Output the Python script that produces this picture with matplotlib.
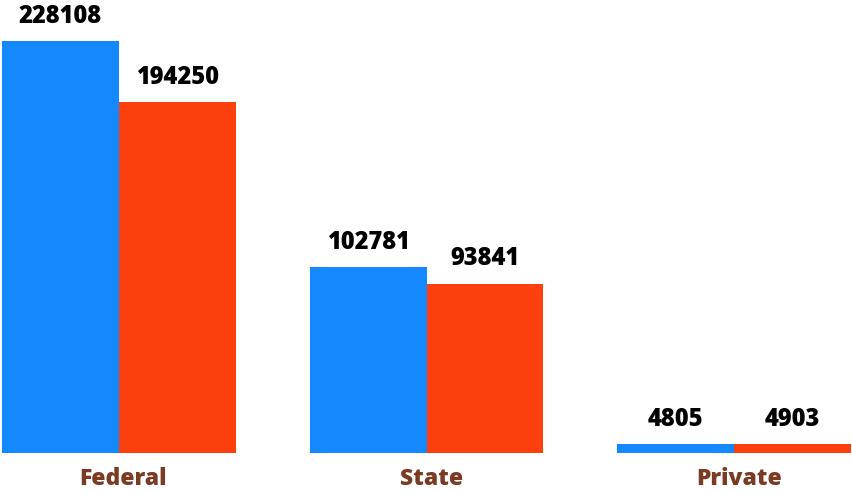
import matplotlib.pyplot as plt
import numpy as np

categories = ["Federal", "State", "Private"]
series_a = [228108, 102781, 4805]
series_b = [194250, 93841, 4903]

BLUE = "#1389fd"
RED = "#fc400d"
BROWN = "#7a3b22"

plt.rcParams["font.family"] = ["Open Sans", "DejaVu Sans"]

fig = plt.figure(figsize=(8.52, 4.93), dpi=100)
ax = fig.add_axes([2 / 852, 40 / 493, 849 / 852, 453 / 493])

x = np.arange(len(categories))
w = 0.38
bars_a = ax.bar(x - w / 2, series_a, width=w, color=BLUE)
bars_b = ax.bar(x + w / 2, series_b, width=w, color=RED)

for bars, vals in ((bars_a, series_a), (bars_b, series_b)):
    for b, v in zip(bars, vals):
        ax.annotate(str(v), (b.get_x() + b.get_width() / 2, v),
                    xytext=(0, 13), textcoords="offset points",
                    ha="center", va="baseline", fontsize=17,
                    fontweight=800, color="black")

ax.set_xlim(-w, 2 + w)
ax.set_ylim(0, 250800)
ax.set_xticks(x + 0.015)
ax.set_xticklabels(categories, fontsize=16.5, fontweight=800, color=BROWN)
ax.tick_params(axis="x", length=0, pad=10)
ax.set_yticks([])
for s in ax.spines.values():
    s.set_visible(False)

fig.savefig("out.png", dpi=100)
